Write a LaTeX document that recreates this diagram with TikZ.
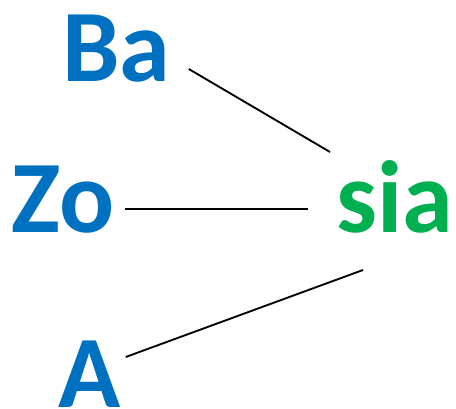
\documentclass[tikz,border=0pt]{standalone}
\usepackage{fontspec}
\setmainfont{Carlito}
\usetikzlibrary{calc}
\definecolor{cblue}{HTML}{0070C0}
\definecolor{cgreen}{HTML}{00B050}
\tikzset{
  syl/.style={text=#1, font=\fontsize{77}{80}\selectfont\bfseries, inner sep=0pt, anchor=base west},
  syl/.default=cblue,
  link/.style={draw=black, line width=1.4pt},
}
\begin{document}
\begin{tikzpicture}[x=0.75pt, y=-0.75pt]
  \useasboundingbox (0,0) rectangle (456,409);
  % syllables
  \node[syl] (ba) at (62,82) {Ba};
  \node[syl] (zo) at (11,233) {Zo};
  \node[syl] (a) at (58,407) {A};
  \node[syl=cgreen] (sia) at (336,233) {sia};
  % links to the ending
  \draw[link] ($(ba.base east)+(18,-13)$) -- ($(sia.base west)+(-6,-81)$);
  \draw[link] ($(zo.base east)+(10,-24)$) -- ($(sia.base west)+(-28,-24)$);
  \draw[link] ($(a.base east)+(5,-50)$) -- ($(sia.base west)+(27,37)$);
\end{tikzpicture}
\end{document}
